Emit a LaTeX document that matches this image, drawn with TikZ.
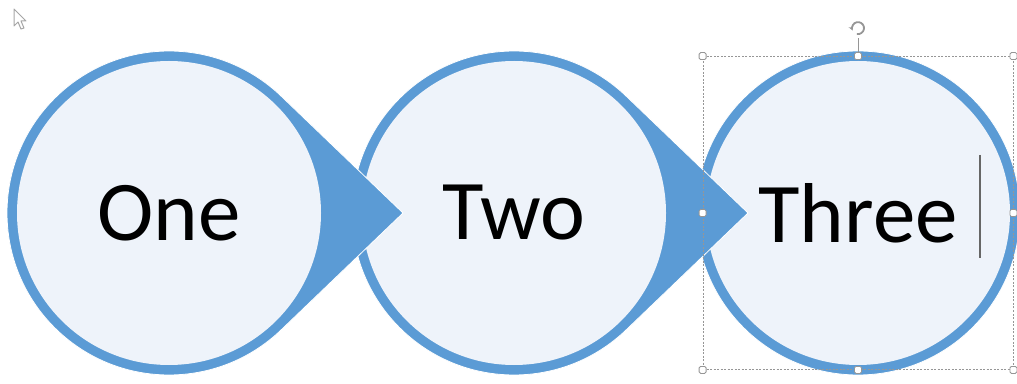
\documentclass[tikz,border=0pt]{standalone}
\usepackage{fontspec}
\setmainfont{Carlito}
\usetikzlibrary{calc, arrows.meta}
\definecolor{ring}{RGB}{91,155,213}
\definecolor{paper}{RGB}{238,243,250}
\definecolor{handle}{RGB}{150,150,150}
\newcommand{\drop}[3]{%
  \fill[ring, draw=white, line width=0.8pt]
        (#2+234,170) -- ($(#2,170)+(46.2:162)$)
        arc[start angle=46.2, end angle=313.8, radius=162] -- cycle;
  \node[bubble] (#1) at (#2,170) {#3};
}
\newcommand{\disc}[3]{%
  \fill[ring, draw=white, line width=0.8pt] (#2,170) circle[radius=162];
  \node[bubble] (#1) at (#2,170) {#3};
}

\begin{document}
\begin{tikzpicture}[x=1pt, y=1pt,
  bubble/.style={circle, fill=paper, inner sep=0pt, minimum size=304pt,
                 font=\fontsize{85}{100}\selectfont},
  selbox/.style={draw=handle, line width=0.8pt, dash pattern=on 2pt off 1.5pt,
                 minimum width=310pt, minimum height=313pt, inner sep=0pt},
  grip/.style={draw=handle, fill=white, line width=0.8pt, rounded corners=1.5pt,
               minimum size=7pt, inner sep=0pt}]
  \useasboundingbox (0,0) rectangle (1017,383);

  % ---------- shapes, back to front ----------
  \disc{three}{858}{Three}
  \drop{two}{514}{Two}
  \drop{one}{169}{One}

  % ---------- text cursor ----------
  \draw[gray!80!black, line width=1.2pt] ($(three)+(122,58)$) -- ++(0,-103);

  % ---------- selection frame ----------
  \node[selbox] (sel) at (three.center) {};
  \draw[handle, line width=0.8pt] (sel.north) -- ++(0,18) coordinate (rot);
  \draw[handle, line width=1.8pt, -{Stealth[length=4pt,width=5pt]}]
        ($(rot)+(0,10)+(-100:6)$) arc[start angle=-100, end angle=200, radius=6];
  \foreach \a in {north west, north, north east, west, east, south west, south, south east}{
    \node[grip] at (sel.\a) {};}

  % ---------- mouse pointer ----------
  \filldraw[fill=white, draw=gray!70, line width=1pt, line join=round]
        (14,374) -- ++(0,-17) -- ++(4,4) -- ++(3,-7) -- ++(3,1) -- ++(-3,7) -- ++(5,0) -- cycle;

\end{tikzpicture}
\end{document}
